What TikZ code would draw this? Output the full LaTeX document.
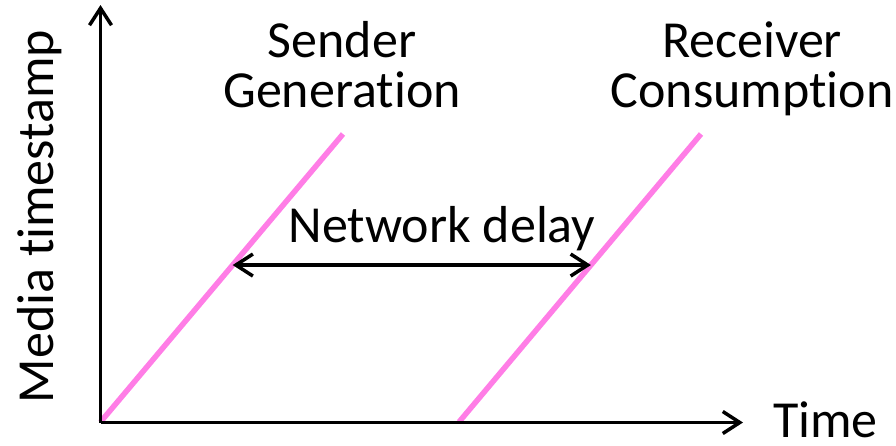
\documentclass[tikz,border=0pt]{standalone}
\usepackage{fontspec}
\setmainfont{Carlito}[Ligatures={NoCommon,NoDiscretionary,NoRare}]
\usetikzlibrary{arrows.meta,calc}
\definecolor{pinkline}{RGB}{255,125,230}
\tikzset{
  barb/.tip={Straight Barb[length=17pt,width=22pt,line width=3.5pt]},
  axis/.style={line width=3.5pt,-barb},
  delayarrow/.style={line width=3.5pt,barb-barb},
  timeline/.style={pinkline,line width=5.5pt},
  lbl/.style={inner sep=0pt,font=\fontsize{52}{50}\selectfont},
}
\begin{document}
\begin{tikzpicture}[x=1pt,y=-1pt]
\useasboundingbox (0,0) rectangle (896,445);
\coordinate (o) at (100.5,422.5);
\coordinate (ytop) at (100.5,5);
\coordinate (xend) at (743,422.5);
\coordinate (s0) at (100.5,422);
\coordinate (s1) at (343,134);
\coordinate (r0) at (459,422);
\coordinate (r1) at (701,134);
\draw[timeline] (s0) -- (s1);
\draw[timeline] (r0) -- (r1);
\draw[axis] (o) -- (ytop);
\draw[axis] (o) -- (xend);
\coordinate (da) at ($(s0)!0.545!(s1)$);
\coordinate (db) at ($(r0)!0.545!(r1)$);
\draw[delayarrow] (da) -- (db);
\node[lbl,anchor=base] (nd) at (442,242) {Network delay};
\node[lbl,anchor=base west,text depth=0pt] (tm) at (773,437) {Time};
\node[lbl,anchor=base,rotate=90] (mt) at (53,216.5) {Media timestamp};
\node[lbl,anchor=base,align=center] (sg) at (342,107) {Sender\\Generation};
\node[lbl,anchor=base,align=center] (rc) at (752,107) {Receiver\\Consumption};
\end{tikzpicture}
\end{document}
